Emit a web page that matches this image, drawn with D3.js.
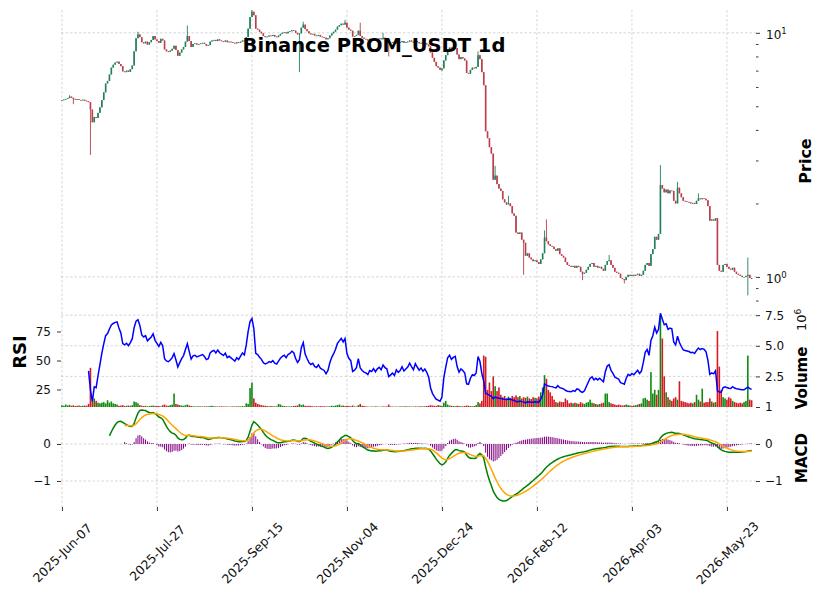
<!DOCTYPE html>
<head>
  <meta charset="utf-8">
  <script src="https://d3js.org/d3.v7.min.js"></script>
</head>
<style>
  body { margin: 0; background: #fff; }
  text { font-family: "DejaVu Sans", sans-serif; }
</style>
<body>
<script>

var title = "Binance PROM_USDT 1d";
var xTickIdx = [0, 50, 100, 150, 200, 250, 300, 350];
var xTickLabels = ["2025-Jun-07", "2025-Jul-27", "2025-Sep-15", "2025-Nov-04",
                   "2025-Dec-24", "2026-Feb-12", "2026-Apr-03", "2026-May-23"];
var rsiTicks = [25, 50, 75];
var volTicks = [0, 2.5, 5, 7.5];
var macdTicks = [0, -1];

var firstOpen = 5.28;
// daily closes
var closes = [
  5.30, 5.33, 5.36, 5.40, 5.48, 5.42, 5.36, 5.33, 5.35, 5.31,
  5.29, 5.32, 5.27, 5.24, 5.20, 4.85, 4.30, 4.52, 4.48, 4.70,
  4.95, 5.30, 5.70, 6.20, 6.35, 6.75, 7.20, 7.40, 7.55, 7.62,
  7.45, 7.30, 6.95, 6.90, 7.00, 6.92, 7.10, 7.35, 8.40, 9.50,
  9.85, 9.60, 9.15, 9.05, 9.20, 8.95, 9.15, 9.35, 9.70, 9.40,
  9.25, 9.10, 9.45, 9.30, 8.55, 8.40, 8.35, 8.45, 8.60, 8.85,
  8.50, 8.05, 8.30, 8.55, 8.75, 9.20, 9.70, 9.25, 8.75, 9.00,
  9.05, 8.95, 9.00, 9.05, 9.10, 9.00, 8.85, 8.90, 9.20, 9.30,
  9.35, 9.25, 9.40, 9.30, 9.25, 9.20, 9.30, 9.15, 9.20, 9.15,
  9.10, 9.05, 9.15, 9.10, 9.20, 9.30, 9.25, 9.60, 10.4, 11.6,
  12.2, 11.8, 10.4, 10.3, 10.1, 9.95, 9.70, 9.60, 9.65, 9.75,
  9.70, 9.80, 9.65, 9.60, 9.75, 9.90, 10.0, 10.05, 9.95, 10.1,
  10.15, 10.25, 10.2, 10.0, 9.85, 9.95, 10.5, 10.8, 10.35, 10.15,
  9.95, 9.85, 9.90, 9.75, 9.70, 9.80, 9.65, 9.60, 9.55, 9.40,
  9.50, 9.75, 9.95, 10.1, 10.3, 10.6, 10.75, 10.9, 10.8, 11.0,
  10.5, 10.3, 10.2, 9.65, 9.70, 9.80, 10.2, 9.70, 9.55, 9.45,
  9.40, 9.30, 9.45, 9.40, 9.50, 9.35, 9.45, 9.50, 9.40, 9.55,
  9.45, 9.40, 9.05, 9.10, 9.15, 9.05, 9.20, 9.10, 9.15, 9.25,
  9.10, 9.15, 9.20, 9.30, 9.20, 9.10, 9.25, 9.15, 9.05, 9.10,
  9.00, 9.05, 8.95, 8.80, 8.30, 7.90, 7.60, 7.30, 7.20, 7.05,
  7.15, 7.70, 8.10, 8.55, 8.70, 8.50, 8.60, 8.65, 8.15, 7.80,
  7.95, 7.85, 7.70, 6.85, 6.80, 7.05, 7.20, 7.15, 7.25, 8.10,
  7.80, 6.90, 6.10, 3.95, 3.70, 3.40, 3.20, 2.50, 2.60, 2.40,
  2.30, 2.25, 2.08, 2.02, 1.98, 2.00, 1.95, 1.82, 1.78, 1.52,
  1.50, 1.52, 1.42, 1.38, 1.22, 1.25, 1.20, 1.18, 1.16, 1.17,
  1.15, 1.13, 1.18, 1.25, 1.45, 1.40, 1.36, 1.34, 1.33, 1.30,
  1.28, 1.31, 1.24, 1.22, 1.20, 1.15, 1.12, 1.11, 1.10, 1.11,
  1.09, 1.11, 1.10, 1.05, 1.03, 1.04, 1.07, 1.10, 1.13, 1.14,
  1.10, 1.11, 1.09, 1.10, 1.08, 1.06, 1.12, 1.16, 1.17, 1.12,
  1.09, 1.05, 1.04, 1.03, 0.99, 0.98, 0.97, 1.00, 1.02, 1.01,
  1.02, 1.01, 1.02, 1.03, 1.01, 1.02, 1.06, 1.12, 1.14, 1.11,
  1.24, 1.30, 1.46, 1.42, 1.50, 2.38, 2.30, 2.22, 2.28, 2.20,
  2.26, 2.25, 2.05, 2.00, 2.32, 2.20, 2.12, 2.05, 2.04, 2.03,
  2.02, 2.00, 2.01, 1.99, 2.05, 2.10, 2.08, 2.10, 2.09, 2.06,
  1.95, 1.70, 1.72, 1.70, 1.74, 1.12, 1.06, 1.05, 1.12, 1.13,
  1.10, 1.08, 1.07, 1.09, 1.05, 1.03, 1.02, 1.01, 1.00, 1.00,
  1.01, 1.02, 0.99, 0.98
];

// long wicks that stand out: [day index, price]
var wickHigh = [[4, 5.55], [40, 10.1], [66, 10.7], [100, 12.5], [127, 11.1], [149, 11.3],
  [157, 11.0], [169, 10.0], [219, 8.4], [228, 2.85], [235, 2.15], [254, 1.55], [255, 1.72],
  [288, 1.23], [315, 2.87], [324, 2.45], [335, 2.2], [361, 1.2]];
var wickLow = [[6, 5.1], [15, 3.16], [125, 6.9], [172, 8.0], [200, 6.95], [243, 1.02],
  [274, 0.97], [296, 0.94], [361, 0.84]];

// volume in millions
var volumes = [
  0.15, 0.10, 0.20, 0.12, 0.18, 0.10, 0.14, 0.08, 0.10, 0.12,
  0.08, 0.10, 0.12, 0.10, 0.25, 3.20, 0.45, 0.70, 0.50, 0.35,
  0.30, 0.35, 0.40, 0.30, 0.55, 0.35, 0.45, 0.30, 0.25, 0.20,
  0.10, 0.12, 0.15, 0.08, 0.10, 0.12, 0.10, 0.15, 0.45, 0.40,
  0.30, 0.15, 0.10, 0.08, 0.10, 0.05, 0.08, 0.10, 0.12, 0.08,
  0.10, 0.08, 0.05, 0.15, 0.20, 0.12, 0.10, 0.15, 0.20, 1.10,
  0.25, 0.20, 0.15, 0.12, 0.10, 0.15, 0.20, 0.12, 0.08, 0.06,
  0.05, 0.04, 0.06, 0.05, 0.04, 0.05, 0.06, 0.05, 0.08, 0.10,
  0.06, 0.05, 0.04, 0.05, 0.06, 0.04, 0.05, 0.04, 0.03, 0.04,
  0.05, 0.04, 0.05, 0.06, 0.05, 0.08, 0.06, 0.30, 0.25, 1.55,
  2.00, 0.70, 0.35, 0.25, 0.20, 0.15, 0.12, 0.10, 0.08, 0.06,
  0.08, 0.06, 0.05, 0.06, 0.25, 0.20, 0.10, 0.08, 0.06, 0.05,
  0.05, 0.06, 0.08, 0.10, 0.12, 0.25, 0.15, 0.20, 0.10, 0.08,
  0.10, 0.08, 0.06, 0.05, 0.06, 0.05, 0.08, 0.05, 0.06, 0.05,
  0.05, 0.06, 0.10, 0.08, 0.12, 0.15, 0.20, 0.10, 0.12, 0.08,
  0.10, 0.08, 0.06, 0.12, 0.05, 0.04, 0.15, 0.25, 0.10, 0.08,
  0.05, 0.04, 0.03, 0.04, 0.03, 0.05, 0.04, 0.03, 0.03, 0.05,
  0.04, 0.05, 0.20, 0.05, 0.04, 0.03, 0.04, 0.03, 0.05, 0.04,
  0.05, 0.06, 0.04, 0.05, 0.03, 0.04, 0.05, 0.04, 0.05, 0.06,
  0.05, 0.06, 0.08, 0.10, 0.15, 0.12, 0.10, 0.08, 0.15, 0.12,
  0.10, 0.35, 0.50, 0.20, 0.12, 0.10, 0.08, 0.06, 0.10, 0.08,
  0.06, 0.05, 0.08, 0.12, 0.10, 0.08, 0.06, 0.08, 0.15, 0.40,
  0.30, 0.50, 4.20, 4.10, 1.40, 2.00, 1.30, 2.50, 1.70, 1.30,
  1.60, 1.00, 0.80, 0.90, 0.70, 0.85, 0.75, 0.90, 0.80, 0.95,
  0.80, 0.90, 0.70, 0.80, 0.75, 0.85, 0.70, 0.65, 0.80, 0.75,
  0.70, 0.85, 1.20, 1.60, 2.60, 2.30, 1.40, 1.20, 0.90, 0.60,
  0.40, 0.35, 0.45, 0.40, 0.40, 0.70, 0.55, 0.30, 0.35, 0.30,
  0.35, 0.30, 0.25, 0.40, 0.30, 0.25, 0.35, 0.40, 0.60, 0.35,
  0.30, 0.25, 0.20, 0.25, 0.30, 0.35, 1.10, 1.10, 0.40, 0.30,
  0.25, 0.20, 0.15, 0.20, 0.15, 0.12, 0.15, 0.20, 0.15, 0.12,
  0.10, 0.12, 0.15, 0.20, 0.25, 0.30, 0.70, 0.75, 0.60, 0.50,
  2.85, 1.10, 1.40, 1.00, 1.40, 7.50, 5.60, 2.50, 1.20, 0.80,
  0.60, 0.50, 0.70, 0.80, 0.60, 2.10, 0.50, 0.45, 0.40, 0.35,
  0.30, 0.35, 0.30, 0.40, 1.00, 0.60, 0.45, 1.50, 0.35, 0.40,
  0.40, 0.70, 0.45, 0.35, 0.40, 6.20, 3.30, 1.40, 0.80, 0.70,
  0.60, 0.80, 0.70, 0.50, 0.40, 0.35, 0.30, 0.35, 0.30, 0.40,
  0.50, 4.20, 0.60, 0.55
];

// build candles
var hiMap = new Map(wickHigh), loMap = new Map(wickLow);
var candles = closes.map(function(c, i) {
  var o = i == 0 ? firstOpen : closes[i - 1];
  var h = Math.max(o, c, hiMap.get(i) || 0);
  var l = Math.min(o, c, loMap.get(i) || Infinity);
  return {i: i, o: o, h: h, l: l, c: c, v: volumes[i] * 1e6, up: c >= o};
});

// indicators
function rsi(c, n) {
  var out = c.map(function() { return null; });
  var g = 0, l = 0, d, i;
  for (i = 1; i <= n; i++) { d = c[i] - c[i - 1]; if (d > 0) g += d; else l -= d; }
  g /= n; l /= n;
  out[n] = 100 - 100 / (1 + g / l);
  for (i = n + 1; i < c.length; i++) {
    d = c[i] - c[i - 1];
    g = (g * (n - 1) + Math.max(d, 0)) / n;
    l = (l * (n - 1) + Math.max(-d, 0)) / n;
    out[i] = l === 0 ? 100 : 100 - 100 / (1 + g / l);
  }
  return out;
}
function ema(arr, n, start) {
  var a = 2 / (n + 1), out = arr.map(function() { return null; }), prev = null;
  for (var i = start; i < arr.length; i++) {
    prev = prev === null ? arr[i] : a * arr[i] + (1 - a) * prev;
    out[i] = prev;
  }
  return out;
}
var rsiVals = rsi(closes, 14);
var ema12 = ema(closes, 12, 0), ema26 = ema(closes, 26, 0);
var macdVals = closes.map(function(c, i) { return i >= 25 ? ema12[i] - ema26[i] : null; });
var sigFull = ema(macdVals, 9, 25);
var sigVals = sigFull.map(function(s, i) { return i >= 33 ? s : null; });
var histVals = macdVals.map(function(m, i) { return i >= 33 ? m - sigFull[i] : null; });

var W = 823, H = 600;
var left = 61, right = 756;
var mainTop = 10, mainBot = 306, volBot = 407, macdBot = 507;

var svg = d3.select("body").append("svg")
    .attr("width", W)
    .attr("height", H);

var x = d3.scaleLinear().domain([-0.5, 365.3]).range([left, right]);
var yP = d3.scaleLog().domain([0.76, 12.4]).range([mainBot, mainTop]);
var yV = d3.scaleLinear().domain([0, 8.25e6]).range([volBot, mainBot]);
var yR = d3.scaleLinear().domain([9.9, 97]).range([volBot, mainBot]);
var yM = d3.scaleLinear().domain([-1.703, 1.0]).range([macdBot, volBot]);

var defs = svg.append("defs");
[["clip-main", mainTop, mainBot], ["clip-vol", mainBot, volBot], ["clip-macd", volBot, macdBot]].forEach(function(c) {
  defs.append("clipPath").attr("id", c[0]).append("rect")
    .attr("x", left).attr("y", c[1]).attr("width", right - left).attr("height", c[2] - c[1]);
});

var gridColor = "#c4c4c4";
function hGrid(vals, scale) {
  svg.append("g").selectAll("line").data(vals).enter().append("line")
    .attr("x1", left).attr("x2", right)
    .attr("y1", function(d) { return scale(d); }).attr("y2", function(d) { return scale(d); })
    .attr("stroke", gridColor).attr("stroke-width", 0.7).attr("stroke-dasharray", "2.5,2");
}
// vertical grid through all panels
svg.append("g").selectAll("line").data(xTickIdx).enter().append("line")
  .attr("x1", function(d) { return x(d); }).attr("x2", function(d) { return x(d); })
  .attr("y1", mainTop).attr("y2", macdBot)
  .attr("stroke", gridColor).attr("stroke-width", 0.7).attr("stroke-dasharray", "2.5,2");
hGrid([1, 10], yP);
hGrid([2.5e6, 5e6, 7.5e6], yV);
hGrid(macdTicks, yM);

// candles
var upC = "#23805c", downC = "#b83f4b";
var cg = svg.append("g").attr("clip-path", "url(#clip-main)");
cg.selectAll(".wick").data(candles).enter().append("line")
  .attr("x1", function(d) { return x(d.i); }).attr("x2", function(d) { return x(d.i); })
  .attr("y1", function(d) { return yP(d.h); }).attr("y2", function(d) { return yP(d.l); })
  .attr("stroke", function(d) { return d.up ? upC : downC; })
  .attr("stroke-width", 0.9);
cg.selectAll(".body").data(candles).enter().append("rect")
  .attr("x", function(d) { return x(d.i) - 0.8; })
  .attr("width", 1.6)
  .attr("y", function(d) { return yP(Math.max(d.o, d.c)); })
  .attr("height", function(d) { return Math.max(0.8, Math.abs(yP(d.o) - yP(d.c))); })
  .attr("fill", function(d) { return d.up ? upC : downC; });

// volume bars
var vg = svg.append("g").attr("clip-path", "url(#clip-vol)");
vg.selectAll("rect").data(candles).enter().append("rect")
  .attr("x", function(d) { return x(d.i) - 0.8; })
  .attr("width", 1.6)
  .attr("y", function(d) { return yV(d.v); })
  .attr("height", function(d) { return yV(0) - yV(d.v); })
  .attr("fill", function(d) { return d.up ? "#108a10" : "#d41a22"; });

// RSI line
vg.append("path")
  .datum(rsiVals.map(function(r, i) { return [i, r]; }))
  .attr("fill", "none").attr("stroke", "#0000ff").attr("stroke-width", 1.5)
  .attr("d", d3.line()
    .defined(function(d) { return d[1] !== null; })
    .x(function(d) { return x(d[0]); })
    .y(function(d) { return yR(d[1]); }));

// MACD
var mg = svg.append("g").attr("clip-path", "url(#clip-macd)");
mg.selectAll("rect").data(histVals.map(function(h, i) { return [i, h]; }).filter(function(d) { return d[1] !== null; }))
  .enter().append("rect")
  .attr("x", function(d) { return x(d[0]) - 0.5; })
  .attr("width", 1)
  .attr("y", function(d) { return yM(Math.max(0, d[1])); })
  .attr("height", function(d) { return Math.abs(yM(d[1]) - yM(0)); })
  .attr("fill", "#800080");
function lineOf(vals, color) {
  mg.append("path")
    .datum(vals.map(function(v, i) { return [i, v]; }))
    .attr("fill", "none").attr("stroke", color).attr("stroke-width", 1.5)
    .attr("d", d3.line()
      .defined(function(d) { return d[1] !== null; })
      .x(function(d) { return x(d[0]); })
      .y(function(d) { return yM(d[1]); }));
}
lineOf(macdVals, "#008000");
lineOf(sigVals, "#ffa500");

// axes
function styleAxis(g) {
  g.select(".domain").remove();
  g.selectAll("line").attr("stroke", "#222").attr("stroke-width", 0.9);
  g.selectAll("text").attr("font-size", "12px").attr("fill", "#111")
    .attr("font-family", "DejaVu Sans, sans-serif");
}

// price axis (log), labels as 10^n
var pAx = svg.append("g").attr("transform", "translate(" + right + ",0)")
  .call(d3.axisRight(yP).tickValues([1, 10]).tickSize(4).tickFormat(function() { return ""; }))
  .call(styleAxis);
pAx.selectAll(".tick").append("text")
  .attr("x", 10).attr("dy", "0.45em").attr("font-size", "12px").attr("fill", "#111")
  .each(function(d) {
    var t = d3.select(this);
    t.append("tspan").text("10");
    t.append("tspan").attr("dy", "-0.55em").attr("font-size", "8.5px").text(Math.round(Math.log10(d)));
  });
svg.append("g").attr("transform", "translate(" + right + ",0)")
  .call(d3.axisRight(yP).tickValues([0.8, 0.9, 2, 3, 4, 5, 6, 7, 8, 9]).tickSize(2.5).tickFormat(function() { return ""; }))
  .call(styleAxis);

svg.append("g").attr("transform", "translate(" + right + ",0)")
  .call(d3.axisRight(yV).tickValues(volTicks.map(function(v) { return v * 1e6; })).tickSize(4).tickPadding(5)
    .tickFormat(function(d) { return d == 0 ? "1" : d3.format(".1f")(d / 1e6); }))
  .call(styleAxis);

svg.append("g").attr("transform", "translate(" + left + ",0)")
  .call(d3.axisLeft(yR).tickValues(rsiTicks).tickSize(4).tickPadding(6))
  .call(styleAxis);

svg.append("g").attr("transform", "translate(" + left + ",0)")
  .call(d3.axisLeft(yM).tickValues(macdTicks).tickSize(4).tickPadding(6).tickFormat(d3.format("d")))
  .call(styleAxis);
svg.append("g").attr("transform", "translate(" + right + ",0)")
  .call(d3.axisRight(yM).tickValues(macdTicks).tickSize(4).tickPadding(5).tickFormat(d3.format("d")))
  .call(styleAxis);

var xAx = svg.append("g").attr("transform", "translate(0," + macdBot + ")")
  .call(d3.axisBottom(x).tickValues(xTickIdx).tickSize(4).tickFormat(function() { return ""; }))
  .call(styleAxis);
xAx.selectAll(".tick").append("text")
  .attr("text-anchor", "middle")
  .attr("dy", "0.35em")
  .attr("font-size", "12.5px").attr("fill", "#111")
  .attr("transform", "translate(0,46) rotate(-45)")
  .text(function(d, i) { return xTickLabels[i]; });

// labels
svg.append("text").attr("x", 374).attr("y", 52).attr("text-anchor", "middle")
  .attr("font-size", "19.5px").attr("font-weight", "bold").text(title);

function vLabel(txt, xx, yy, size) {
  svg.append("text").attr("transform", "translate(" + xx + "," + yy + ") rotate(-90)")
    .attr("text-anchor", "middle").attr("font-size", size).attr("font-weight", "bold").text(txt);
}
vLabel("Price", 811, 161, "16px");
vLabel("Volume", 807, 378, "15px");
vLabel("MACD", 807, 458, "15px");
vLabel("RSI", 26, 352, "18px");

var off = svg.append("text").attr("transform", "translate(806,331) rotate(-90)")
  .attr("font-size", "13px").attr("fill", "#111");
off.append("tspan").text("10");
off.append("tspan").attr("dy", "-0.55em").attr("font-size", "9px").text("6");

</script>
</body>
